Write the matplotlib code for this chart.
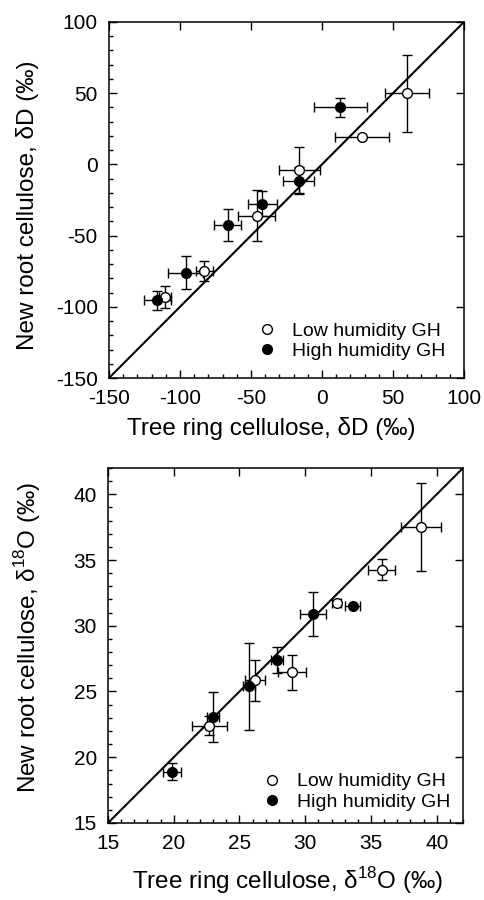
import numpy as np
import matplotlib
matplotlib.use('Agg')
import matplotlib.pyplot as plt
from matplotlib.ticker import MultipleLocator
from matplotlib.lines import Line2D

plt.rcParams['font.family'] = ['Liberation Sans', 'DejaVu Sans']
plt.rcParams['mathtext.fontset'] = 'custom'
plt.rcParams['mathtext.rm'] = 'Liberation Sans'

## top panel, deuterium (per mil)
dD_low_x = [60, 28, -16, -46, -83, -110.5]
dD_low_y = [50, 19, -4, -36, -75, -93]
dD_low_xerr = [15.5, 19, 14.5, 13, 6, 4]
dD_low_yerr = [27, 0, 16, 18, 7, 7.5]

dD_high_x = [13, -16.5, -42, -66.5, -96, -116]
dD_high_y = [40, -11.5, -27.5, -42.5, -76, -95.5]
dD_high_xerr = [18.5, 11, 10, 9.5, 12.5, 9.5]
dD_high_yerr = [6.5, 9.5, 9, 11.5, 11.5, 6.5]

## bottom panel, oxygen-18 (per mil)
d18_low_x = [38.8, 35.8, 32.4, 26.2, 29.0, 22.7]
d18_low_y = [37.5, 34.25, 31.7, 25.85, 26.45, 22.4]
d18_low_xerr = [1.55, 1.0, 0.35, 0.75, 1.08, 1.33]
d18_low_yerr = [3.35, 0.8, 0, 1.55, 1.35, 0.7]

d18_high_x = [30.6, 33.6, 27.85, 25.7, 23.0, 19.85]
d18_high_y = [30.9, 31.5, 27.4, 25.4, 23.05, 18.9]
d18_high_xerr = [1.0, 0.6, 0.45, 0.47, 0.45, 0.7]
d18_high_yerr = [1.7, 0, 1.0, 3.3, 1.9, 0.63]

legend_labels = ['Low humidity GH', 'High humidity GH']

fig = plt.figure(figsize=(4.85, 9), dpi=100)
ax1 = fig.add_axes([0.2247, 0.58, 0.732, 0.3956])
ax2 = fig.add_axes([0.2227, 0.0856, 0.732, 0.3944])


def panel(ax, lo, hi, major, minor, lx, ly, lxe, lye, hx, hy, hxe, hye, leg_anchor):
	## 1:1 line
	ax.plot([lo, hi], [lo, hi], color='black', lw=1.5, zorder=1)
	ebk = dict(fmt='o', ms=7, ecolor='black', elinewidth=1.0, capsize=3.5,
			   capthick=1.0, mec='black', mew=1.0, zorder=3)
	ax.errorbar(lx, ly, xerr=lxe, yerr=lye, mfc='white', **ebk)
	ax.errorbar(hx, hy, xerr=hxe, yerr=hye, mfc='black', **ebk)
	ax.set_xlim(lo, hi)
	ax.set_ylim(lo, hi)
	ax.xaxis.set_major_locator(MultipleLocator(major))
	ax.yaxis.set_major_locator(MultipleLocator(major))
	ax.xaxis.set_minor_locator(MultipleLocator(minor))
	ax.yaxis.set_minor_locator(MultipleLocator(minor))
	ax.tick_params(which='major', direction='in', length=6, width=1,
				   top=True, right=True, labelsize=15, pad=8)
	ax.tick_params(which='minor', direction='in', length=3, width=1,
				   top=False, right=False)
	for s in ax.spines.values():
		s.set_linewidth(1.1)
	handles = [Line2D([], [], ls='none', marker='o', ms=7, mfc='white', mec='black', mew=1.0),
			   Line2D([], [], ls='none', marker='o', ms=7, mfc='black', mec='black', mew=1.0)]
	ax.legend(handles, legend_labels, loc='lower left', bbox_to_anchor=leg_anchor,
			  frameon=False, fontsize=14, handlelength=1.0, handletextpad=0.8,
			  labelspacing=0.15, borderpad=0, borderaxespad=0)


panel(ax1, -150, 100, 50, 10, dD_low_x, dD_low_y, dD_low_xerr, dD_low_yerr,
	  dD_high_x, dD_high_y, dD_high_xerr, dD_high_yerr, (0.418, 0.05))
ax1.set_xticks([-150, -100, -50, 0, 50, 100])
ax1.set_xticklabels(['-150', '-100', '-50', '0', '50', '100'])
ax1.set_yticks([-150, -100, -50, 0, 50, 100])
ax1.set_yticklabels(['-150', '-100', '-50', '0', '50', '100'])

panel(ax2, 15, 42, 5, 1, d18_low_x, d18_low_y, d18_low_xerr, d18_low_yerr,
	  d18_high_x, d18_high_y, d18_high_xerr, d18_high_yerr, (0.435, 0.034))

## axis labels placed by hand like the original layout
fig.text(0.559, 0.517, 'Tree ring cellulose, δD (‰)', fontsize=17.5, ha='center', va='baseline')
fig.text(0.594, 0.012, 'Tree ring cellulose, δ$^{\\mathregular{18}}$O (‰)', fontsize=17.5,
		 ha='center', va='baseline')
fig.text(0.056, 0.772, 'New root cellulose, δD (‰)', fontsize=17.5, rotation=90,
		 ha='center', va='center')
fig.text(0.056, 0.292, 'New root cellulose, δ$^{\\mathregular{18}}$O (‰)', fontsize=17.5,
		 rotation=90, ha='center', va='center')

fig.savefig('out.png', dpi=100)
